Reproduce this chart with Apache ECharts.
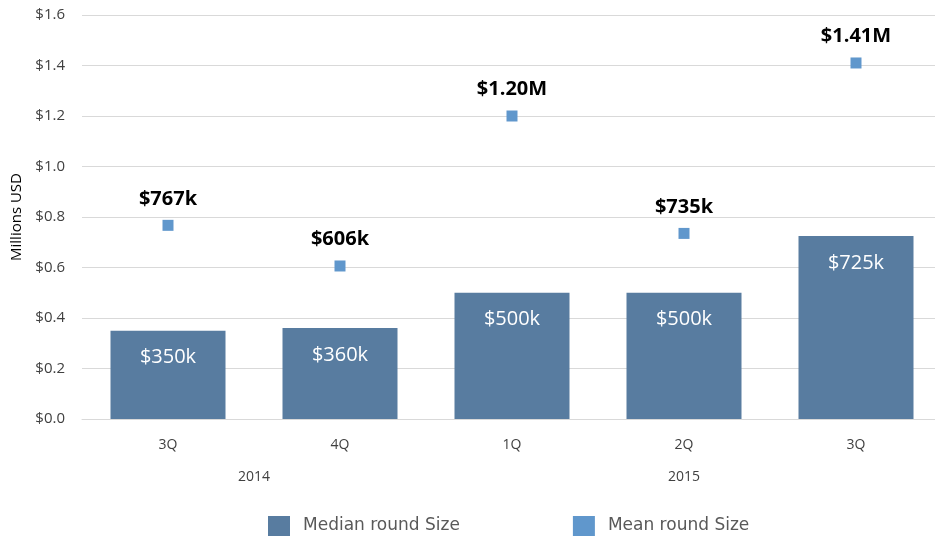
<!DOCTYPE html>
<html>
<head>
<meta charset="utf-8">
<script src="https://cdn.jsdelivr.net/npm/echarts@6/dist/echarts.min.js"></script>
<style>
  html, body { margin: 0; padding: 0; background: #fff; }
  #chart { width: 935px; height: 539px; }
</style>
</head>
<body>
<div id="chart"></div>
<script>
// quarters and the year groups under them
const quarters = ['3Q', '4Q', '1Q', '2Q', '3Q'];
const years = ['2014', '2015'];
const yearCenters = [1, 3.5]; // in category units from the left edge

// millions USD
const medianSize = [0.35, 0.36, 0.5, 0.5, 0.725];
const meanSize = [0.767, 0.606, 1.20, 0.735, 1.41];

const FONT = '"Open Sans", sans-serif';

const fmtMoney = v => v < 1 ? '$' + Math.round(v * 1000) + 'k' : '$' + v.toFixed(2) + 'M';

const myChart = echarts.init(document.getElementById('chart'));

const option = {
  animation: false,
  textStyle: { fontFamily: FONT },
  grid: { left: 82, top: 15, width: 860, height: 404, outerBoundsMode: 'none' },
  legend: {
    left: 268,
    top: 516,
    padding: 0,
    itemWidth: 22,
    itemHeight: 20,
    itemGap: 113,
    textStyle: { fontSize: 17, color: '#595959', fontFamily: '"DejaVu Sans", sans-serif', padding: [0, 0, 0, 8] },
    data: [
      { name: 'Median round Size', icon: 'rect' },
      { name: 'Mean round Size', icon: 'rect' }
    ]
  },
  xAxis: [
    {
      type: 'category',
      data: quarters,
      axisLine: { lineStyle: { color: '#d9d9d9' } },
      axisTick: { show: false },
      axisLabel: { color: '#404040', fontSize: 14, margin: 19 }
    },
    {
      type: 'value',
      position: 'bottom',
      min: 0,
      max: 5,
      interval: 0.5,
      axisLine: { show: false },
      axisTick: { show: false },
      splitLine: { show: false },
      axisLabel: {
        color: '#404040',
        fontSize: 14,
        margin: 51,
        showMinLabel: false,
        showMaxLabel: false,
        formatter: v => {
          const i = yearCenters.indexOf(v);
          return i >= 0 ? years[i] : '';
        }
      }
    }
  ],
  yAxis: {
    type: 'value',
    min: 0,
    max: 1.6,
    interval: 0.2,
    name: 'Millions USD',
    nameLocation: 'middle',
    nameGap: 58,
    nameTextStyle: { fontSize: 15, color: '#000' },
    axisLine: { show: false },
    axisTick: { show: false },
    splitLine: { lineStyle: { color: '#d9d9d9', width: 1 } },
    axisLabel: {
      color: '#404040',
      fontSize: 15,
      margin: 17,
      formatter: v => '$' + v.toFixed(1)
    }
  },
  series: [
    {
      name: 'Median round Size',
      type: 'bar',
      data: medianSize,
      barWidth: 115,
      itemStyle: { color: '#587ca0' },
      label: {
        show: true,
        position: 'insideTop',
        distance: 17,
        color: '#fff',
        fontSize: 20,
        formatter: p => fmtMoney(p.value)
      }
    },
    {
      name: 'Mean round Size',
      type: 'scatter',
      data: meanSize,
      symbol: 'rect',
      symbolSize: 11,
      itemStyle: { color: '#6097cc', opacity: 1 },
      label: {
        show: true,
        position: 'top',
        distance: 11,
        color: '#000',
        fontSize: 20,
        fontWeight: 'bold',
        formatter: p => fmtMoney(p.value)
      }
    }
  ]
};

myChart.setOption(option);
</script>
</body>
</html>
